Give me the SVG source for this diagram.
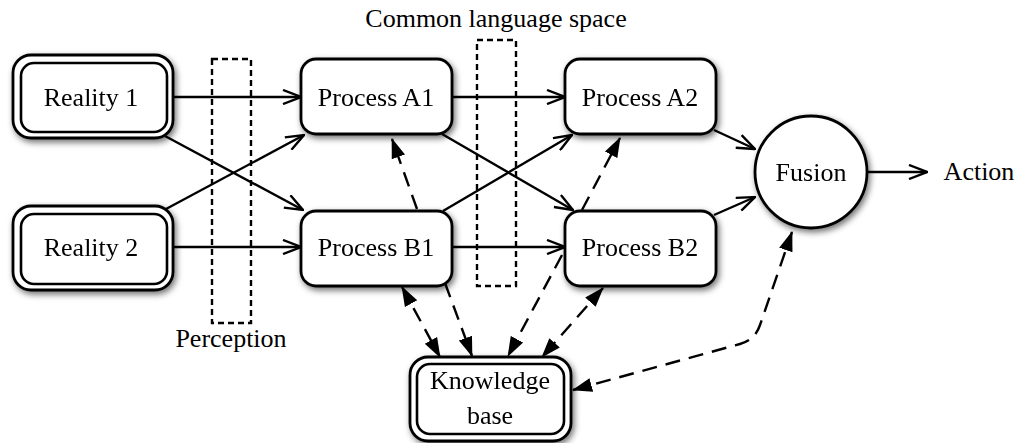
<svg xmlns="http://www.w3.org/2000/svg" width="1019" height="443" viewBox="0 0 1019 443">
<style>
text{font-family:"Liberation Serif","Times New Roman",serif;font-size:26px;fill:#000;text-anchor:middle}
.box{fill:#fff;stroke:#000;stroke-width:2.8}
.inner{fill:none;stroke:#000;stroke-width:2.6}
.zone{fill:none;stroke:#000;stroke-width:2.4;stroke-dasharray:6,4}
.solid{fill:none;stroke:#000;stroke-width:2.4;marker-end:url(#open)}
.dash{fill:none;stroke:#000;stroke-width:2.4;stroke-dasharray:15,9;marker-end:url(#filled)}
.dash2{fill:none;stroke:#000;stroke-width:2.4;stroke-dasharray:15,9;marker-end:url(#filled);marker-start:url(#filled)}
</style>
<defs>
<filter id="sh" x="-20%" y="-20%" width="140%" height="150%">
<feDropShadow dx="2" dy="3" stdDeviation="3" flood-color="#000" flood-opacity="0.55"/>
</filter>
<marker id="open" markerUnits="userSpaceOnUse" viewBox="0 0 20 16" refX="19" refY="8" markerWidth="20" markerHeight="16" orient="auto">
<path d="M1,1 L19,8 L1,15" fill="none" stroke="#000" stroke-width="2.4"/>
</marker>
<marker id="filled" markerUnits="userSpaceOnUse" viewBox="0 0 20 16" refX="19" refY="8" markerWidth="20" markerHeight="16" orient="auto-start-reverse">
<path d="M0,1 L20,8 L0,15 Z" fill="#000"/>
</marker>
</defs>

<g id="zones">
<rect class="zone" x="212" y="59" width="39" height="264"/>
<rect class="zone" x="477" y="40" width="39" height="246"/>
<text x="496" y="27">Common language space</text>
<text x="231" y="347">Perception</text>
</g>

<g id="connectors">
<line class="solid" x1="173" y1="97" x2="301" y2="97"/>
<line class="solid" x1="173" y1="247" x2="301" y2="247"/>
<line class="solid" x1="165" y1="136" x2="303" y2="210"/>
<line class="solid" x1="166" y1="209" x2="304" y2="135"/>
<line class="solid" x1="452" y1="97" x2="565" y2="97"/>
<line class="solid" x1="452" y1="247" x2="565" y2="247"/>
<line class="solid" x1="442" y1="134" x2="573" y2="210"/>
<line class="solid" x1="443" y1="211" x2="572" y2="135"/>
<line class="solid" x1="714" y1="130" x2="755" y2="149"/>
<line class="solid" x1="714" y1="215" x2="755" y2="197"/>
<line class="solid" x1="867" y1="172" x2="927" y2="172"/>
<line class="dash" x1="417" y1="209" x2="392" y2="139"/>
<line class="dash" x1="582" y1="210" x2="620" y2="138"/>
<line class="dash2" x1="402" y1="287" x2="440" y2="357"/>
<line class="dash" x1="445" y1="283" x2="472" y2="356"/>
<line class="dash" x1="562" y1="255" x2="508" y2="356"/>
<line class="dash2" x1="603" y1="288" x2="542" y2="357"/>
<path class="dash2" d="M573,390 L740,344 Q755,340 760,325 L792,232"/>
</g>

<g id="reality1" filter="url(#sh)">
<rect class="box" x="13" y="55" width="160" height="83" rx="18"/>
<rect class="inner" x="21" y="63" width="146" height="69" rx="13"/>
<text x="91" y="106">Reality 1</text>
</g>
<g id="reality2" filter="url(#sh)">
<rect class="box" x="13" y="206" width="160" height="84" rx="18"/>
<rect class="inner" x="21" y="214" width="146" height="70" rx="13"/>
<text x="91" y="256">Reality 2</text>
</g>
<g id="processA1" filter="url(#sh)">
<rect class="box" x="301" y="59" width="151" height="75" rx="15"/>
<text x="376" y="106">Process A1</text>
</g>
<g id="processB1" filter="url(#sh)">
<rect class="box" x="301" y="211" width="151" height="75" rx="15"/>
<text x="376" y="256">Process B1</text>
</g>
<g id="processA2" filter="url(#sh)">
<rect class="box" x="565" y="59" width="151" height="75" rx="15"/>
<text x="640" y="106">Process A2</text>
</g>
<g id="processB2" filter="url(#sh)">
<rect class="box" x="565" y="211" width="151" height="75" rx="15"/>
<text x="640" y="256">Process B2</text>
</g>
<g id="fusion" filter="url(#sh)">
<circle class="box" cx="811" cy="172" r="56"/>
<text x="811" y="181">Fusion</text>
</g>
<g id="action">
<text x="979" y="180">Action</text>
</g>
<g id="knowledge" filter="url(#sh)">
<rect class="box" x="410" y="357" width="161" height="84" rx="18"/>
<rect class="inner" x="417" y="364" width="147" height="70" rx="13"/>
<text x="490" y="389">Knowledge</text>
<text x="490" y="424">base</text>
</g>
</svg>
